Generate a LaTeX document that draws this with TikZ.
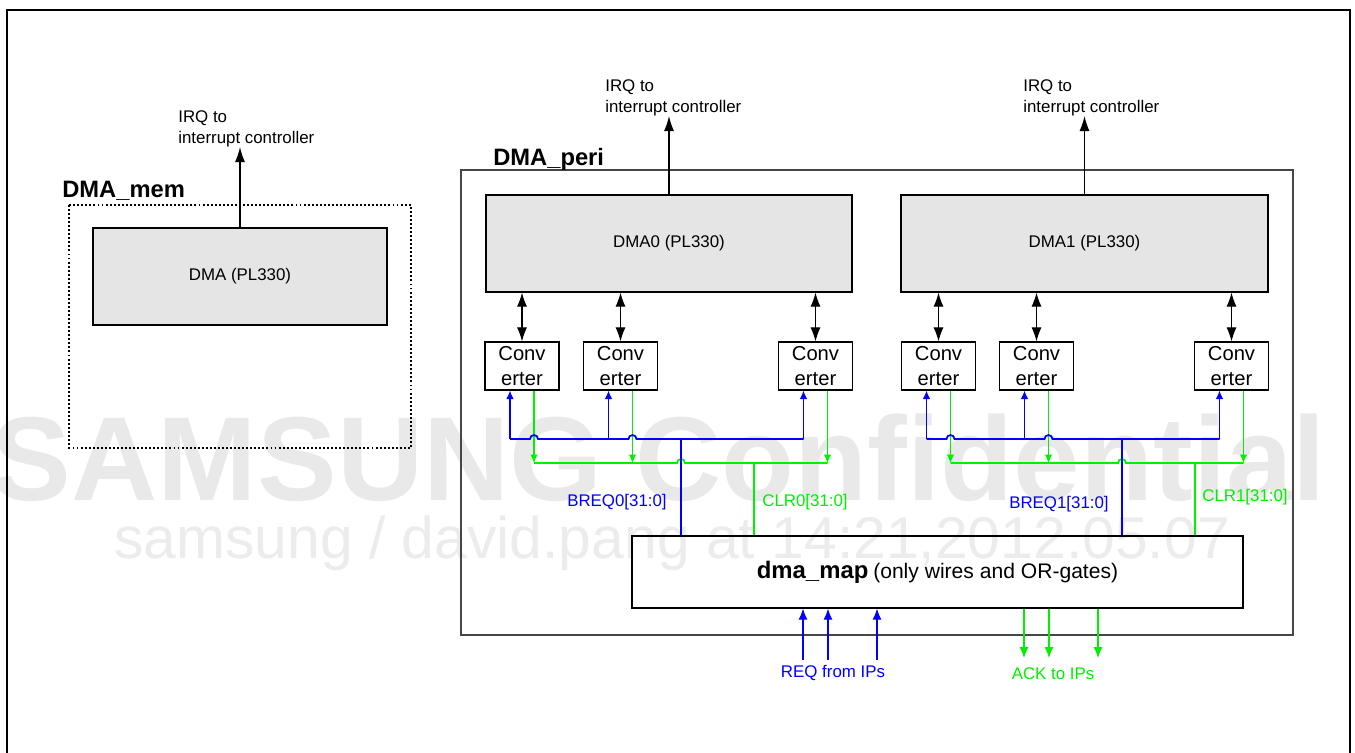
\documentclass[tikz,border=0pt]{standalone}
\usepackage{fontspec}
\setmainfont{Liberation Sans}
\usetikzlibrary{arrows.meta,positioning}
\definecolor{boxgray}{RGB}{229,229,229}
\definecolor{wmgray}{RGB}{233,233,233}
\definecolor{wmlight}{RGB}{236,236,236}
\definecolor{reqblue}{RGB}{0,0,255}
\definecolor{ackgreen}{RGB}{0,240,0}
\definecolor{perigray}{RGB}{70,70,70}
\begin{document}
\begin{tikzpicture}[x=0.02cm,y=-0.02cm,
    dmabox/.style={draw,fill=boxgray,line width=0.7pt,inner sep=0pt,font=\fontsize{9.6}{11.5}\selectfont},
    convbox/.style={draw,fill=white,line width=0.7pt,inner sep=0pt,minimum width=1.48cm,minimum height=0.96cm,align=center,font=\fontsize{11.5}{13.7}\selectfont},
    lbl/.style={inner sep=0pt,font=\fontsize{9.6}{12}\selectfont},
    ttl/.style={inner sep=0pt,font=\fontsize{13.5}{16}\selectfont\bfseries},
    irq/.style={line width=0.7pt,-{Latex[length=0.3cm,width=0.2cm]}},
    link/.style={line width=0.6pt,{Latex[length=0.28cm,width=0.2cm]}-{Latex[length=0.28cm,width=0.2cm]}},
    bwire/.style={draw=reqblue,line width=0.6pt},
    gwire/.style={draw=ackgreen,line width=0.6pt},
    bbus/.style={draw=reqblue,line width=1pt},
    gbus/.style={draw=ackgreen,line width=1pt},
    tipbus/.style={-{Latex[length=0.17cm,width=0.15cm]}},
    tipip/.style={-{Latex[length=0.22cm,width=0.18cm]}}]
  \clip (0,0) rectangle (1355,752);
  % watermark
  \node[text=wmgray,font=\fontsize{68}{80}\selectfont\bfseries,anchor=base] (wm1) at (659,500) {SAMSUNG Confidential};
  \node[text=wmlight,font=\fontsize{33.5}{40}\selectfont,anchor=base] (wm2) at (672,558) {samsung / david.pang at 14:21,2012.05.07};
  % frame
  \draw[line width=1.1pt] (7,10) rectangle (1350,800);

  % DMA_mem
  \draw[line width=1.1pt,dash pattern=on 1.1pt off 1.2pt] (69,205) rectangle (411,448);
  \node[ttl,anchor=base west] (memlbl) at (62,197) {DMA\_mem};
  \node[dmabox,minimum width=5.88cm,minimum height=1.94cm] (dma) at (240,276.5) {DMA (PL330)};
  \node[lbl,align=left,anchor=west] (irq) at (178,128.5) {IRQ to\\interrupt controller};
  \draw[irq] (dma.north) -- (dma.north |- irq.south);

  % DMA_peri
  \draw[draw=perigray,line width=0.9pt] (461,170) rectangle (1293,635);
  \node[ttl,anchor=base west] (perilbl) at (493,165) {DMA\_peri};
  \node[dmabox,minimum width=7.32cm,minimum height=1.94cm] (dma0) at (669,243.5) {DMA0 (PL330)};
  \node[dmabox,minimum width=7.34cm,minimum height=1.94cm] (dma1) at (1084.5,243.5) {DMA1 (PL330)};
  \node[lbl,align=left,anchor=west] (irq0) at (605,97.5) {IRQ to\\interrupt controller};
  \node[lbl,align=left,anchor=west] (irq1) at (1023,97.5) {IRQ to\\interrupt controller};
  \draw[irq] (dma0.north) -- (dma0.north |- irq0.south);
  \draw[irq] (dma1.north) -- (dma1.north |- irq1.south);

  % converters
  \foreach \n/\x in {01/522,02/620.5,03/815.5,04/938.5,05/1036.5,06/1231.5}
    \node[convbox] (c\n) at (\x,366) {Conv\\erter};
  \foreach \n in {01,02,03}
    \draw[link] (c\n.north) -- (c\n.north |- dma0.south);
  \foreach \n in {04,05,06}
    \draw[link] (c\n.north) -- (c\n.north |- dma1.south);

  % dma_map
  \node[draw,line width=0.7pt,minimum width=12.22cm,minimum height=1.44cm,inner sep=0pt] (map) at (937.5,572)
    {{\fontsize{13.6}{16}\selectfont\bfseries dma\_map} {\fontsize{12}{14}\selectfont (only wires and OR-gates)}};

  % buses
  \coordinate (blev) at (0,439);
  \coordinate (glev) at (0,463);
  \coordinate (bt0) at (681,439);
  \coordinate (gt0) at (754,463);
  \coordinate (bt1) at (1122,439);
  \coordinate (gt1) at (1195,463);
  \foreach \n in {01,02,03,04,05,06} {
    \coordinate (b\n) at ([xshift=-0.24cm]c\n.south);
    \coordinate (g\n) at ([xshift=0.24cm]c\n.south);
    \draw[bwire,tipbus] (b\n |- blev) -- (b\n);
    \draw[gwire,tipbus] (g\n) -- (g\n |- glev);
  }
  \draw[bbus] (b01 |- blev) -- ([xshift=-0.08cm]g01 |- blev) arc[start angle=180,end angle=0,radius=0.08cm]
    -- ([xshift=-0.08cm]g02 |- blev) arc[start angle=180,end angle=0,radius=0.08cm] -- (b03 |- blev);
  \draw[bbus] (b04 |- blev) -- ([xshift=-0.08cm]g04 |- blev) arc[start angle=180,end angle=0,radius=0.08cm]
    -- ([xshift=-0.08cm]g05 |- blev) arc[start angle=180,end angle=0,radius=0.08cm] -- (b06 |- blev);
  \draw[gbus] (g01 |- glev) -- ([xshift=-0.08cm]bt0 |- glev) arc[start angle=180,end angle=0,radius=0.08cm] -- (g03 |- glev);
  \draw[gbus] (g04 |- glev) -- ([xshift=-0.08cm]bt1 |- glev) arc[start angle=180,end angle=0,radius=0.08cm] -- (g06 |- glev);
  \draw[bbus] (bt0) -- (bt0 |- map.north);
  \draw[gbus] (gt0) -- (gt0 |- map.north);
  \draw[bbus] (bt1) -- (bt1 |- map.north);
  \draw[gbus] (gt1) -- (gt1 |- map.north);
  \node[lbl,text=reqblue,anchor=base east] (breq0) at (667,506) {BREQ0[31:0]};
  \node[lbl,text=ackgreen,anchor=base west] (clr0) at (762,506) {CLR0[31:0]};
  \node[lbl,text=reqblue,anchor=base east] (breq1) at (1109,508) {BREQ1[31:0]};
  \node[lbl,text=ackgreen,anchor=base west] (clr1) at (1202,501) {CLR1[31:0]};

  % requests and acks
  \foreach \i/\x in {1/803,2/828,3/877} {
    \coordinate (r\i) at (\x,660);
    \draw[bwire,tipip] (r\i) -- (r\i |- map.south);
  }
  \foreach \i/\x in {1/1024,2/1049,3/1098} {
    \coordinate (a\i) at (\x,658);
    \draw[gwire,tipip] (a\i |- map.south) -- (a\i);
  }
  \node[lbl,text=reqblue,anchor=base] (reqlbl) at (833,677) {REQ from IPs};
  \node[lbl,text=ackgreen,anchor=base] (acklbl) at (1053,679) {ACK to IPs};
\end{tikzpicture}
\end{document}
